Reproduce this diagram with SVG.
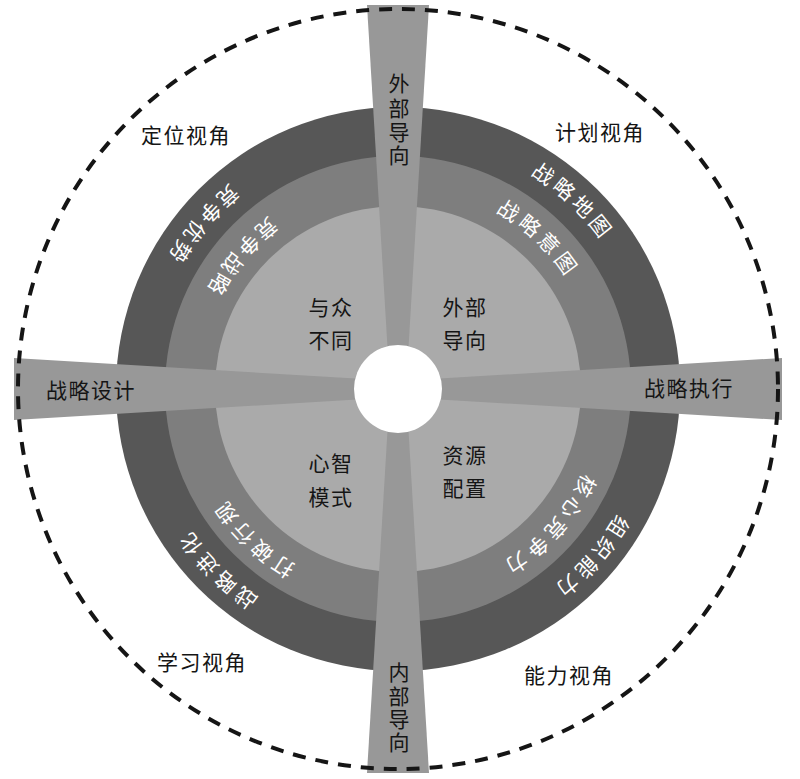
<svg xmlns="http://www.w3.org/2000/svg" width="800" height="779" viewBox="0 0 800 779">
<style>
.lbl{font-family:"Noto Sans CJK SC","Noto Sans CJK JP",sans-serif;font-size:21px;fill:#151515;text-anchor:middle;letter-spacing:1.5px}
.ring{font-family:"Noto Sans CJK SC","Noto Sans CJK JP",sans-serif;font-size:21px;fill:#ffffff;letter-spacing:4px}
.bar{fill:#989898}
</style>
<defs>
<path id="p1" d="M307.4,140 A265,265 0 0 0 137,343"/>
<path id="p2" d="M324.5,187 A215,215 0 0 0 186.3,351.7"/>
<path id="p3" d="M454.7,143.5 A252,252 0 0 1 639,315.3"/>
<path id="p4" d="M443.5,192.2 A202,202 0 0 1 591.2,329.9"/>
<path id="p5" d="M645.4,437.1 A252,252 0 0 1 480,627.3"/>
<path id="p6" d="M596.6,431.2 A203,203 0 0 1 460.7,582.1"/>
<path id="p7" d="M348.7,586.9 A204,204 0 0 1 201.9,445.2"/>
<path id="p8" d="M333,631.4 A251,251 0 0 1 155.6,454"/>
</defs>
<g id="rings">
<circle cx="398" cy="389" r="282" fill="#575757"/>
<circle cx="398" cy="389" r="233" fill="#7e7e7e"/>
<circle cx="398" cy="389" r="183" fill="#aaaaaa"/>
</g>
<g id="bars">
<polygon class="bar" points="390,389 406,389 429,5 367,5"/>
<polygon class="bar" points="390,389 406,389 429,773 367,773"/>
<polygon class="bar" points="398,381 398,397 14,420 14,358"/>
<polygon class="bar" points="398,381 398,397 782,420 782,358"/>
</g>
<circle id="hub" cx="398" cy="389" r="44" fill="#ffffff"/>
<circle id="boundary" cx="398" cy="389" r="380" fill="none" stroke="#151515" stroke-width="4" stroke-dasharray="13 10"/>
<g id="ring-labels">
<text class="ring"><textPath href="#p1" startOffset="50%" text-anchor="middle">竞争优势</textPath></text>
<text class="ring"><textPath href="#p2" startOffset="50%" text-anchor="middle">竞争战略</textPath></text>
<text class="ring"><textPath href="#p3" startOffset="50%" text-anchor="middle">战略地图</textPath></text>
<text class="ring"><textPath href="#p4" startOffset="50%" text-anchor="middle">战略意图</textPath></text>
<text class="ring"><textPath href="#p5" startOffset="50%" text-anchor="middle">组织能力</textPath></text>
<text class="ring"><textPath href="#p6" startOffset="50%" text-anchor="middle">核心竞争力</textPath></text>
<text class="ring"><textPath href="#p7" startOffset="50%" text-anchor="middle">打破行规</textPath></text>
<text class="ring"><textPath href="#p8" startOffset="50%" text-anchor="middle">战略进化</textPath></text>
</g>
<g id="center-labels">
<text class="lbl"><tspan x="331" y="315">与众</tspan><tspan x="331" y="348">不同</tspan></text>
<text class="lbl"><tspan x="465" y="315">外部</tspan><tspan x="465" y="348">导向</tspan></text>
<text class="lbl"><tspan x="331" y="471">心智</tspan><tspan x="331" y="505">模式</tspan></text>
<text class="lbl"><tspan x="465" y="463">资源</tspan><tspan x="465" y="496">配置</tspan></text>
</g>
<g id="bar-labels">
<text class="lbl" style="letter-spacing:0"><tspan x="399" y="91">外</tspan><tspan x="399" y="116">部</tspan><tspan x="399" y="140">导</tspan><tspan x="399" y="163">向</tspan></text>
<text class="lbl" style="letter-spacing:0"><tspan x="399" y="680">内</tspan><tspan x="399" y="704">部</tspan><tspan x="399" y="727">导</tspan><tspan x="399" y="750">向</tspan></text>
<text class="lbl" x="91" y="398">战略设计</text>
<text class="lbl" x="689" y="396">战略执行</text>
</g>
<g id="view-labels">
<text class="lbl" x="186" y="143">定位视角</text>
<text class="lbl" x="600" y="140">计划视角</text>
<text class="lbl" x="202" y="670">学习视角</text>
<text class="lbl" x="569" y="683">能力视角</text>
</g>
</svg>
